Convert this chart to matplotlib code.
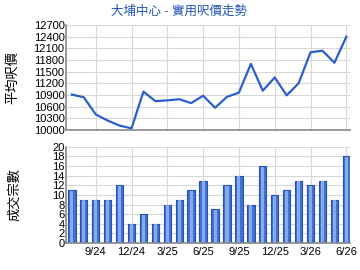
import matplotlib
matplotlib.use('Agg')
import matplotlib.pyplot as plt

plt.rcParams['font.family'] = ['Liberation Sans', 'Noto Sans CJK TC', 'DejaVu Sans']

# monthly data, 7/24 .. 6/26
price = [10910, 10840, 10400, 10240, 10110, 10040, 10985, 10740, 10760, 10790,
         10690, 10880, 10570, 10850, 10960, 11700, 11010, 11350, 10890, 11200,
         12000, 12040, 11730, 12400]
deals = [11, 9, 9, 9, 12, 4, 6, 4, 8, 9, 11, 13, 7, 12, 14, 8, 16, 10, 11, 13,
         12, 13, 9, 18]
tick_pos = [2, 5, 8, 11, 14, 17, 20, 23]
tick_labels = ['9/24', '12/24', '3/25', '6/25', '9/25', '12/25', '3/26', '6/26']
price_ticks = list(range(10000, 12701, 300))
deal_ticks = list(range(0, 21, 2))

x = list(range(len(price)))
grid_c = '#d8d8d8'
spine_c = '#888888'

fig = plt.figure(figsize=(3.6, 2.7), dpi=100)
ax1 = fig.add_axes([0.183, 0.519, 0.789, 0.388])
ax2 = fig.add_axes([0.183, 0.100, 0.789, 0.356])

fig.text(0.497, 0.955, '大埔中心 - 實用呎價走勢', color='#2255bb',
         fontsize=9, ha='center', va='center')

# line chart
ax1.plot(x, price, color='#2a5fcc', lw=1.6)
ax1.set_ylim(10000, 12700)
ax1.set_yticks(price_ticks)
ax1.set_ylabel('平均呎價', fontsize=9.5)
ax1.yaxis.set_label_coords(-0.165, 0.5)

# bar chart, with a lighter stripe to mimic the gradient
ax2.bar(x, deals, width=0.62, color='#3f72d2', edgecolor='#2651b0', linewidth=0.8, zorder=3)
ax2.bar(x, [d - 0.15 for d in deals], width=0.26, color='#86aaea', linewidth=0, zorder=4)
ax2.set_ylim(0, 20)
ax2.set_yticks(deal_ticks)
ax2.set_ylabel('成交宗數', fontsize=9.5)
ax2.yaxis.set_label_coords(-0.158, 0.5)

for ax in (ax1, ax2):
    ax.set_xlim(-0.5, 23.3)
    ax.set_xticks(tick_pos)
    ax.grid(True, color=grid_c, lw=0.8)
    ax.set_axisbelow(True)
    ax.tick_params(axis='both', length=0, labelsize=8, pad=1)
    for s in ('top', 'right'):
        ax.spines[s].set_visible(False)
    for s in ('left', 'bottom'):
        ax.spines[s].set_color(spine_c)
        ax.spines[s].set_linewidth(1.2)
        ax.spines[s].set_zorder(5)

ax1.set_xticklabels([])
ax2.set_xticklabels(tick_labels)
ax2.tick_params(axis='x', pad=3)

fig.savefig('out.png', dpi=100)
